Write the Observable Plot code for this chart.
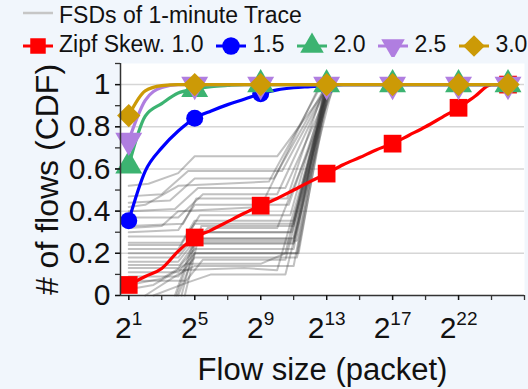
<!DOCTYPE html>
<html>
<head>
<meta charset="utf-8">
<script src="https://cdn.jsdelivr.net/npm/d3@7"></script>
<script src="https://cdn.jsdelivr.net/npm/@observablehq/plot@0.6"></script>
<style>
  html, body { margin: 0; padding: 0; background: #f1f6fc; overflow: hidden; }
  body { width: 528px; height: 389px; font-family: "Liberation Sans", Arial, sans-serif; }
  #legend { height: 58px; position: relative; z-index: 1; }
  #chart { position: relative; z-index: 2; }
  .row { position: absolute; left: 22px; display: flex; align-items: center; font-size: 23px; line-height: 26px; color: #111; white-space: nowrap; }
  .item { display: flex; align-items: center; margin-right: 12px; }
  .item svg { margin-right: 5px; }
</style>
</head>
<body>
<div id="legend"></div>
<div id="chart"></div>
<script>
// ---------------- data ----------------
const exps = [1,2,3,4,5,6,7,8,9,10,11,12,13,14,15,16,17,18,19,20,21,22,23,24];
const markerExps = [1,5,9,13,17,21,24];
const skew10 = [0.05,0.09,0.128,0.21,0.275,0.31,0.35,0.39,0.426,0.46,0.50,0.54,0.578,0.62,0.654,0.69,0.72,0.76,0.80,0.845,0.89,0.945,1.0,1.0];
const skew15 = [0.355,0.59,0.70,0.78,0.84,0.875,0.905,0.93,0.957,0.975,0.985,0.99,0.995,1,1,1,1,1,1,1,1,1,1,1];
const skew20 = [0.615,0.85,0.91,0.96,0.978,0.99,0.996,1,1,1,1,1,1,1,1,1,1,1,1,1,1,1,1,1];
const skew25 = [0.735,0.925,0.986,1,1,1,1,1,1,1,1,1,1,1,1,1,1,1,1,1,1,1,1,1];
const skew30 = [0.853,0.97,0.995,1,1,1,1,1,1,1,1,1,1,1,1,1,1,1,1,1,1,1,1,1];
const seriesNames = ["Zipf Skew. 1.0","1.5","2.0","2.5","3.0"];
const seriesValues = [skew10, skew15, skew20, skew25, skew30];
const seriesColors = ["#ff0000","#0000ff","#3cb371","#b07ee0","#cc9a06"];
const fsdLabel = "FSDs of 1-minute Trace";

// FSD traces of the 1-minute trace: [log2(flow size), CDF] points
const fsdTraces = [
  [[1,.52],[2.2,.53],[4,.58],[5,.66],[10,.66],[13.2,1]],
  [[1,.47],[3,.48],[4.6,.59],[10.3,.59],[13.1,1]],
  [[1,.44],[3.5,.45],[5,.555],[9.8,.555],[13,1]],
  [[1,.40],[3.8,.41],[5.2,.51],[10.5,.51],[13.3,1]],
  [[1,.37],[4,.37],[5.5,.48],[10,.48],[13.1,1]],
  [[1,.33],[4.3,.34],[5.1,.46],[10.6,.46],[12.9,1]],
  [[1,.30],[4,.31],[5,.43],[10.7,.43],[13.2,1]],
  [[1,.28],[4.5,.28],[5.3,.38],[10.8,.38],[13,1]],
  [[1,.25],[4.2,.25],[5,.355],[11,.355],[13.1,1]],
  [[1,.22],[4,.22],[5,.34],[11,.34],[13.3,1]],
  [[1,.20],[4,.20],[5.2,.30],[10.9,.30],[13,1]],
  [[1,.18],[4,.18],[4.9,.27],[11,.27],[13.1,1]],
  [[1,.16],[4,.16],[5,.26],[11.2,.26],[12.9,1]],
  [[1,.145],[4.1,.145],[5,.245],[11,.245],[13.2,1]],
  [[1,.13],[4,.13],[5,.22],[11,.22],[13,1]],
  [[1,.11],[4,.11],[5,.20],[11.3,.20],[13.1,1]],
  [[1,.09],[4,.09],[5,.18],[11.2,.18],[13.2,1]],
  [[1,.07],[4.5,.07],[5.5,.17],[10.5,.17],[13.3,1]],
  [[1,.05],[3,.08],[4.5,.15],[9,.15],[10.5,.20],[13,1]],
  [[1,.03],[2.5,.05],[4,.12],[8,.13],[10,.12],[13.2,1]],
  [[2,0],[4,.10],[5,.14],[11,.14],[13.1,1]],
  [[3.8,0],[5,.27],[11,.27],[13,1]],
  [[3.9,0],[5,.25],[11,.25],[13.1,1]],
  [[4,0],[5,.20],[11.2,.20],[13,1]],
  [[4.2,0],[5.2,.30],[10.8,.30],[13.2,1]],
  [[4.4,0],[5.4,.33],[11,.33],[13.1,1]],
  [[2.5,0],[4.5,.06],[6,.10],[10.5,.10],[13.4,1]],
  [[1,.32],[3,.33],[4,.40],[9,.42],[12.6,1]],
  [[1,.42],[2,.43],[4,.52],[9.5,.54],[12.7,1]],
  [[1,.24],[4.8,.24],[5.8,.32],[10,.32],[13.5,1]]
];

const xTickPos = [1,5,9,13,17,21];
const xTickLabels = ["1","5","9","13","17","22"];
const xMinorTicks = [1,3,5,7,9,11,13,15,17,19,21,23,25];
const yTickValues = [0,0.2,0.4,0.6,0.8,1];
const yTickLabels = ["0","0.2","0.4","0.6","0.8","1"];
const yMinorTicks = [0,0.1,0.2,0.3,0.4,0.5,0.6,0.7,0.8,0.9,1.0,1.1];
const xLabel = "Flow size (packet)";
const yLabel = "# of flows (CDF)";

// ---------------- symbols ----------------
const sqrt3 = Math.sqrt(3);
const triangleDown = {
  draw(context, size) {
    const y = -Math.sqrt(size / (sqrt3 * 3));
    context.moveTo(0, -y * 2);
    context.lineTo(-sqrt3 * y, y);
    context.lineTo(sqrt3 * y, y);
    context.closePath();
  }
};
const symbols = [d3.symbolSquare, d3.symbolCircle, d3.symbolTriangle, triangleDown, d3.symbolDiamond2];
const plotSymbols = ["square", "circle", "triangle", triangleDown, "diamond2"];
const dotR = [10, 8.5, 10, 10, 10.5];

// ---------------- legend ----------------
const legend = d3.select("#legend");
const row1 = legend.append("div").attr("class", "row").style("top", "2px");
const it1 = row1.append("div").attr("class", "item");
const sw1 = it1.append("svg").attr("width", 32).attr("height", 26);
sw1.append("line").attr("x1", 1).attr("x2", 31).attr("y1", 11).attr("y2", 11)
  .attr("stroke", "#c6c6c6").attr("stroke-width", 2.5);
it1.append("span").text(fsdLabel);

const row2 = legend.append("div").attr("class", "row").style("top", "31px");
seriesNames.forEach((name, i) => {
  const it = row2.append("div").attr("class", "item");
  const sw = it.append("svg").attr("width", 32).attr("height", 26);
  sw.append("line").attr("x1", 1).attr("x2", 31).attr("y1", 15).attr("y2", 15)
    .attr("stroke", seriesColors[i]).attr("stroke-width", 3);
  sw.append("path").attr("transform", "translate(16,15)")
    .attr("d", d3.symbol(symbols[i], i === 4 ? 300 : 240)())
    .attr("fill", seriesColors[i]);
  it.append("span").text(name);
});

// ---------------- chart ----------------
const fsdRows = fsdTraces.flatMap((tr, k) => tr.map(([x, y]) => ({trace: k, x, y})));
const seriesRows = seriesValues.map((vals, i) => exps.map((e, j) => ({s: i, x: e, y: vals[j]})));

const marks = [
  Plot.frame({fill: "white", stroke: null}),
  Plot.gridY(yTickValues.slice(1), {stroke: "#d6d6d6", strokeOpacity: 1, strokeWidth: 1.5}),
  Plot.line(fsdRows, {x: "x", y: "y", z: "trace", stroke: "#383838", strokeOpacity: 0.31, strokeWidth: 2})
];
seriesRows.forEach((rows, i) => {
  marks.push(Plot.line(rows, {x: "x", y: "y", stroke: seriesColors[i], strokeWidth: 3.2, curve: "monotone-x"}));
  marks.push(Plot.dot(rows.filter(d => markerExps.includes(d.x)), {x: "x", y: "y", symbol: plotSymbols[i], r: dotR[i], fill: seriesColors[i], stroke: null}));
});
marks.push(
  Plot.ruleX([0.5], {stroke: "#333", strokeWidth: 1.5}),
  Plot.ruleY([0], {stroke: "#333", strokeWidth: 1.5}),
  Plot.axisY(yMinorTicks, {tickSize: 5, tickFormat: () => "", stroke: "#333", strokeWidth: 1.3, label: null}),
  Plot.axisY(yTickValues, {tickSize: 5, tickPadding: 5, fontSize: 30, color: "#111", strokeWidth: 1.3,
    tickFormat: d => yTickLabels[yTickValues.indexOf(d)], label: null}),
  Plot.axisX(xMinorTicks, {tickSize: 5, tickFormat: () => "", stroke: "#333", strokeWidth: 1.3, label: null}),
  Plot.axisX(xTickPos, {tickSize: 5, tickPadding: 16, fontSize: 30, color: "#111", strokeWidth: 1.3,
    tickFormat: d => xTickLabels[xTickPos.indexOf(d)], label: null}),
  Plot.text([yLabel], {text: d => d, frameAnchor: "left", dx: -73, rotate: -90, fontSize: 32, fill: "#111",
    textAnchor: "middle", lineAnchor: "middle"}),
  Plot.text([xLabel], {text: d => d, frameAnchor: "bottom", dy: 75, fontSize: 31, fill: "#111",
    textAnchor: "middle", lineAnchor: "middle"})
);

const plot = Plot.plot({
  width: 528,
  height: 331,
  marginLeft: 120,
  marginRight: 4,
  marginTop: 5,
  marginBottom: 94,
  style: {background: "transparent", fontFamily: "'Liberation Sans', Arial, sans-serif", overflow: "visible"},
  x: {domain: [0.5, 25]},
  y: {domain: [0, 1.1]},
  marks
});

// superscript exponents on the x tick labels: 2^n
const ns = "http://www.w3.org/2000/svg";
plot.querySelectorAll('g[aria-label="x-axis tick label"] text').forEach(t => {
  const exp = t.textContent;
  if (!exp) return;
  t.textContent = "";
  const base = document.createElementNS(ns, "tspan");
  base.textContent = "2";
  const sup = document.createElementNS(ns, "tspan");
  sup.setAttribute("dy", "-13");
  sup.setAttribute("font-size", "19");
  sup.textContent = exp;
  t.append(base, sup);
});

document.getElementById("chart").append(plot);
</script>
</body>
</html>
